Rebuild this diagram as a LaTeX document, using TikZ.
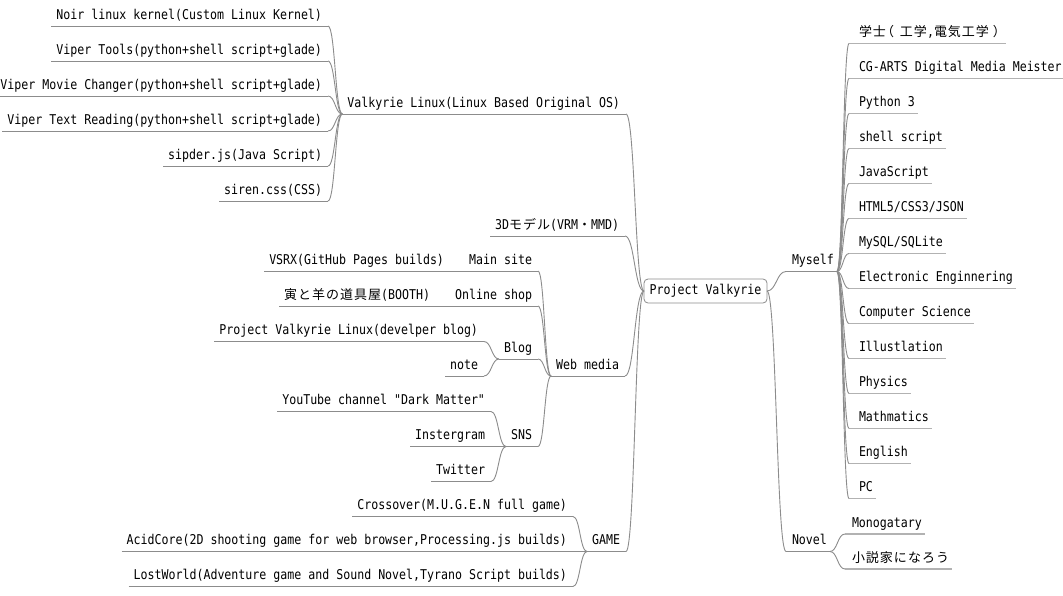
\documentclass[tikz,border=0pt]{standalone}
\usepackage{fontspec}
\newfontfamily\monofam[FakeStretch=0.86]{DejaVu Sans Mono}
\newfontfamily\cjkfam[LetterSpace=7.7]{Noto Sans CJK JP}
\usetikzlibrary{calc}
\definecolor{lc}{RGB}{140,140,140}
\definecolor{lcleaf}{RGB}{178,178,178}
\newcommand\jtext[1]{{\cjkfam\fontsize{13}{16}\selectfont #1}}
\newcommand\jopen{\makebox[14pt][l]{\hspace*{-5pt}\jtext{（}}}
\newcommand\jclose{\makebox[14pt][l]{\hspace*{4pt}\jtext{）}}}
\tikzset{
  txt/.style={font={\monofam\fontsize{13.5}{16}\selectfont}, inner sep=0pt, outer sep=0pt, text=black},
  lnk/.style={draw=lc, line width=0.9pt},
  ul/.style={draw=lc, line width=0.9pt},
  leafu/.style={draw=lcleaf, line width=1.4pt},
  rootbox/.style={txt, draw=lc, line width=0.8pt, rounded corners=4pt, minimum width=123pt, minimum height=24pt, fill=white}
}
% left-side node: name, text right x, underline y, text
\newcommand\leftnode[4]{%
  \node[txt, anchor=base east] (#1) at (#2,#3-7) {#4};
  \coordinate (#1-l) at ($(#1.base west)+(-5,7)$);
  \coordinate (#1-r) at (#2+6,#3);
  \draw[ul] (#1-l) -- (#1-r);
}
% right-side node: name, text left x, underline y, pad, style, text
\newcommand\rightnode[6]{%
  \node[txt, anchor=base west] (#1) at (#2,#3-7) {#6};
  \coordinate (#1-l) at (#2-#4,#3);
  \coordinate (#1-r) at ($(#1.base east)+(3,7)$);
  \draw[#5] (#1-l) -- (#1-r);
}
\newcommand\mlink[2]{%
  \draw[lnk] let \p1=(#1), \p2=(#2) in (\p1) .. controls ({(\x1+\x2)/2},\y1) and ({(\x1+\x2)/2},\y2) .. (\p2);
}
\begin{document}
\begin{tikzpicture}[x=1pt,y=-1pt]
\fill[white] (0,0) rectangle (1063,595);
\useasboundingbox (0,0) rectangle (1063,595);

% ---------- left side ----------
\leftnode{valk}{620}{114}{Valkyrie Linux(Linux Based Original OS)}
\leftnode{noir}{322}{26}{Noir linux kernel(Custom Linux Kernel)}
\leftnode{vtools}{322}{61}{Viper Tools(python+shell script+glade)}
\leftnode{vmovie}{322}{96}{Viper Movie Changer(python+shell script+glade)}
\leftnode{vtext}{322}{131}{Viper Text Reading(python+shell script+glade)}
\leftnode{sipder}{322}{166}{sipder.js(Java Script)}
\leftnode{siren}{322}{201}{siren.css(CSS)}

\leftnode{model}{619}{236}{3D\jtext{モデル}(VRM\jtext{・}MMD)}

\leftnode{web}{619}{376}{Web media}
\leftnode{main}{532}{271}{Main site}
\leftnode{vsrx}{444}{271}{VSRX(GitHub Pages builds)}
\leftnode{shop}{532}{306}{Online shop}
\leftnode{booth}{430}{306}{\jtext{寅と羊の道具屋}(BOOTH)}
\leftnode{blog}{532}{359}{Blog}
\leftnode{pvl}{478}{341.5}{Project Valkyrie Linux(develper blog)}
\leftnode{note}{478}{376}{note}
\leftnode{sns}{532}{446.5}{SNS}
\leftnode{yt}{485}{411.5}{YouTube channel "Dark Matter"}
\leftnode{insta}{485}{446.5}{Instergram}
\leftnode{tw}{485}{481.5}{Twitter}

\leftnode{game}{620}{551.5}{GAME}
\leftnode{cross}{567}{516.5}{Crossover(M.U.G.E.N full game)}
\leftnode{acid}{567}{551.5}{AcidCore(2D shooting game for web browser,Processing.js builds)}
\leftnode{lost}{567}{586.5}{LostWorld(Adventure game and Sound Novel,Tyrano Script builds)}

% ---------- root ----------
\node[rootbox] (root) at (705.5,291) {Project Valkyrie};

% ---------- right side ----------
\rightnode{myself}{792}{271.5}{6}{ul}{Myself}
\rightnode{novel}{792}{551.5}{6}{ul}{Novel}

\rightnode{m1}{859}{43.5}{10}{leafu}{\jtext{学士}\jopen\jtext{工学},\jtext{電気工学}\jclose}
\rightnode{m2}{859}{78.5}{10}{leafu}{CG-ARTS Digital Media Meister}
\rightnode{m3}{859}{113.5}{10}{leafu}{Python 3}
\rightnode{m4}{859}{148.5}{10}{leafu}{shell script}
\rightnode{m5}{859}{183.5}{10}{leafu}{JavaScript}
\rightnode{m6}{859}{218.5}{10}{leafu}{HTML5/CSS3/JSON}
\rightnode{m7}{859}{253.5}{10}{leafu}{MySQL/SQLite}
\rightnode{m8}{859}{288.5}{10}{leafu}{Electronic Enginnering}
\rightnode{m9}{859}{323.5}{10}{leafu}{Computer Science}
\rightnode{m10}{859}{358.5}{10}{leafu}{Illustlation}
\rightnode{m11}{859}{393.5}{10}{leafu}{Physics}
\rightnode{m12}{859}{428.5}{10}{leafu}{Mathmatics}
\rightnode{m13}{859}{463.5}{10}{leafu}{English}
\rightnode{m14}{859}{498.5}{10}{leafu}{PC}

\rightnode{n1}{852}{534}{7}{leafu}{Monogatary}
\rightnode{n2}{852}{569}{7}{leafu}{\jtext{小説家になろう}}

% ---------- links ----------
\foreach \c in {valk,model,web,game} { \mlink{\c-r}{root.west} }
\foreach \c in {noir,vtools,vmovie,vtext,sipder,siren} { \mlink{\c-r}{valk-l} }
\draw[ul] (vsrx-r) -- (main-l);
\draw[ul] (booth-r) -- (shop-l);
\foreach \c in {main,shop,blog,sns} { \mlink{\c-r}{web-l} }
\foreach \c in {pvl,note} { \mlink{\c-r}{blog-l} }
\foreach \c in {yt,insta,tw} { \mlink{\c-r}{sns-l} }
\foreach \c in {cross,acid,lost} { \mlink{\c-r}{game-l} }

\mlink{root.east}{myself-l}
\mlink{root.east}{novel-l}
\foreach \c in {m1,m2,m3,m4,m5,m6,m7,m8,m9,m10,m11,m12,m13,m14} { \mlink{myself-r}{\c-l} }
\foreach \c in {n1,n2} { \mlink{novel-r}{\c-l} }
\end{tikzpicture}
\end{document}
